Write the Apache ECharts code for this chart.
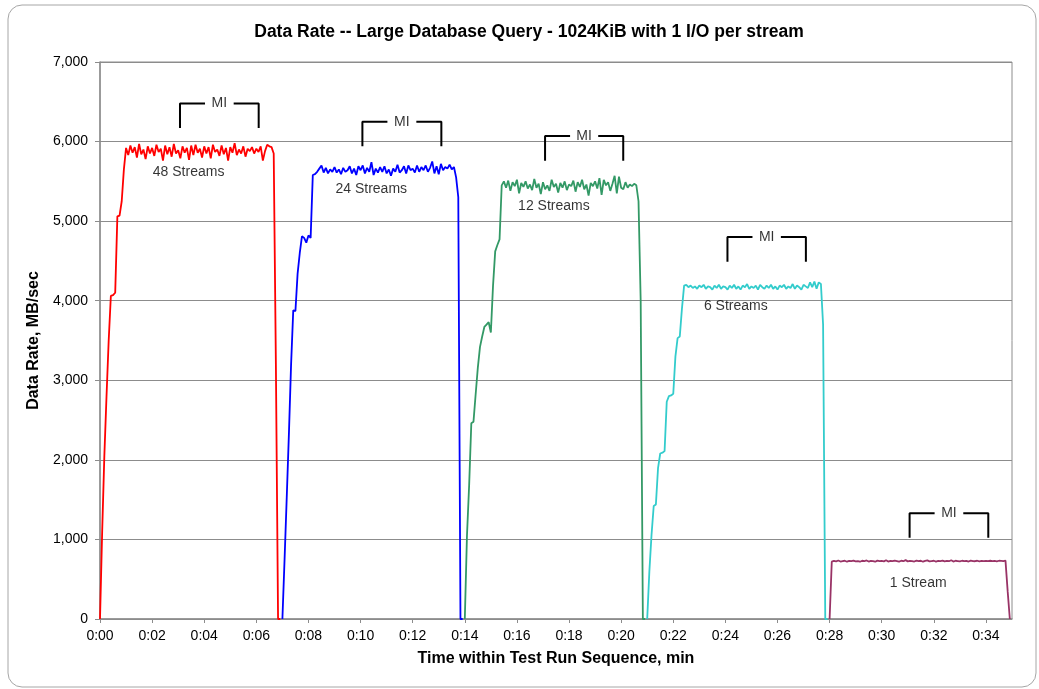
<!DOCTYPE html>
<html>
<head>
<meta charset="utf-8">
<script src="https://cdn.jsdelivr.net/npm/echarts@6/dist/echarts.min.js"></script>
<style>
  html, body { margin: 0; padding: 0; background: #fff; }
  #chart { width: 1039px; height: 689px; }
</style>
</head>
<body>
<div id="chart"></div>
<script>
// each run is sampled every 5 seconds, starting at the run start (min)
var runStart = [0, 7, 14, 21, 28];
var sampleStep = 5 / 60;
var runNames = ['48 Streams', '24 Streams', '12 Streams', '6 Streams', '1 Stream'];
var runColors = ['#ff0000', '#0000ff', '#339966', '#33cccc', '#993366'];

var rate48 = [0, 1100, 2050, 2800, 3500, 4060, 4070, 4100, 5060, 5070, 5250, 5650, 5920,
  5830, 5950, 5860, 5930, 5800, 5970, 5840, 5900, 5780, 5940,
  5850, 5920, 5820, 5960, 5870, 5910, 5760, 5950, 5840, 5930,
  5810, 5970, 5850, 5890, 5790, 5940, 5860, 5920, 5770, 5950,
  5830, 5960, 5860, 5910, 5800, 5940, 5850, 5930, 5790, 5960,
  5870, 5900, 5820, 5950, 5840, 5920, 5760, 5930, 5860, 5980,
  5830, 5900, 5850, 5940, 5810, 5910, 5880, 5930, 5850, 5910,
  5870, 5940, 5760, 5880, 5960, 5940, 5930,
  5850, 3200, 0, 0];

var rate24 = [0, 750, 1530, 2330, 3200, 3880, 3870, 4340, 4600, 4810, 4790, 4730, 4820, 4790, 5580, 5590,
  5620, 5660, 5700, 5610, 5670, 5600, 5650, 5620, 5680, 5610,
  5650, 5590, 5670, 5620, 5640, 5690, 5600, 5660, 5580, 5690,
  5640, 5700, 5600, 5670, 5620, 5740, 5580, 5660, 5610, 5680,
  5620, 5690, 5600, 5650, 5570, 5660, 5620, 5710, 5610, 5640,
  5690, 5600, 5700, 5640, 5660, 5610, 5700, 5620, 5680, 5640,
  5700, 5620, 5670, 5750, 5600, 5690, 5590, 5720, 5640, 5680,
  5660, 5710, 5650, 5680,
  5550, 5300, 0, 0];

var rate12 = [0, 1050, 1680, 2460, 2480, 2825, 3160, 3420, 3550, 3670, 3700, 3730, 3600, 4190, 4620, 4700, 4770, 5450, 5500,
  5420, 5510, 5380, 5490, 5440, 5520, 5350, 5480, 5430, 5500,
  5410, 5460, 5390, 5530, 5420, 5470, 5340, 5490, 5400, 5450,
  5380, 5520, 5430, 5470, 5360, 5480, 5420, 5500, 5390, 5460,
  5440, 5510, 5370, 5490, 5430, 5520, 5400, 5460, 5320, 5480,
  5440, 5500, 5410, 5540, 5330, 5520, 5450, 5490, 5380, 5470,
  5570, 5350, 5560, 5420, 5400, 5490, 5420, 5460, 5440, 5470,
  5450,
  5250, 4000, 0, 0];

var rate6 = [0, 600, 1060, 1420, 1440, 1900, 2080, 2090, 2110, 2730, 2800, 2810, 2830, 3300, 3530, 3550, 3900, 4190, 4200,
  4170, 4190, 4160, 4180, 4150, 4190, 4170, 4200, 4150, 4180,
  4170, 4140, 4190, 4160, 4200, 4150, 4180, 4170, 4140, 4190,
  4160, 4200, 4150, 4180, 4140, 4190, 4170, 4210, 4150, 4180,
  4160, 4190, 4140, 4200, 4170, 4150, 4190, 4160, 4200, 4150,
  4180, 4140, 4190, 4170, 4200, 4150, 4180, 4160, 4210, 4150,
  4190, 4170, 4140, 4200, 4180, 4160, 4230, 4170, 4240, 4150,
  4230, 4210,
  3700, 0, 0];

var rate1 = [0,
  720, 730, 725, 735, 722, 728, 732, 720, 730, 726,
  734, 724, 728, 720, 732, 726, 736, 722, 730, 728,
  720, 734, 726, 730, 724, 738, 722, 730, 726, 734,
  728, 722, 732, 726, 740, 724, 730, 728, 722, 734,
  726, 732, 720, 730, 736, 724, 728, 732, 722, 730,
  728, 734, 724, 730, 726, 738, 722, 732, 728, 724,
  732, 726, 730, 722, 734, 728, 726, 732, 724, 730,
  728, 730, 726, 732, 728, 730, 724, 732, 730, 728,
  734,
  350, 0];

var runRates = [rate48, rate24, rate12, rate6, rate1];

// stream count labels (min, MB/sec)
var labelTime = [3.40, 10.41, 17.42, 24.40, 31.40];
var labelRate = [5620, 5400, 5190, 3934, 456];

// measurement interval brackets
var miStart = [3.07, 10.07, 17.08, 24.08, 31.07];
var miEnd = [6.09, 13.10, 20.08, 27.09, 34.09];
var miTop = [6480, 6250, 6070, 4800, 1330];
var miBottom = [6170, 5940, 5760, 4490, 1020];
var miArm = 0.96;

var yTicks = [0, 1000, 2000, 3000, 4000, 5000, 6000, 7000];

var font = '"Liberation Sans", Arial, sans-serif';

var series = [];
runRates.forEach(function (vals, k) {
  series.push({
    name: runNames[k],
    type: 'line',
    symbol: 'none',
    smooth: false,
    lineStyle: { width: 1.8, color: runColors[k] },
    itemStyle: { color: runColors[k] },
    z: 3,
    data: vals.map(function (v, i) { return [runStart[k] + i * sampleStep, v]; })
  });
});

miStart.forEach(function (s, k) {
  var e = miEnd[k];
  var bracketStyle = { width: 2, color: '#000' };
  series.push({
    type: 'line', symbol: 'none', lineStyle: bracketStyle, z: 4,
    data: [[s, miBottom[k]], [s, miTop[k]], [s + miArm, miTop[k]]]
  });
  series.push({
    type: 'line', symbol: 'none', lineStyle: bracketStyle, z: 4,
    data: [[e - miArm, miTop[k]], [e, miTop[k]], [e, miBottom[k]]]
  });
});

series.push({
  type: 'scatter',
  symbolSize: 0,
  z: 5,
  label: {
    show: true, position: 'inside', formatter: 'MI',
    color: '#000', fontSize: 14, fontFamily: font
  },
  data: miStart.map(function (s, k) { return [(s + miEnd[k]) / 2, miTop[k]]; })
});

series.push({
  type: 'scatter',
  symbolSize: 0,
  z: 5,
  label: {
    show: true, position: 'inside', formatter: '{b}',
    color: '#000', fontSize: 14, fontFamily: font
  },
  data: labelTime.map(function (t, k) { return { name: runNames[k], value: [t, labelRate[k]] }; })
});

var chart = echarts.init(document.getElementById('chart'));
chart.setOption({
  animation: false,
  backgroundColor: '#fff',
  textStyle: { fontFamily: font },
  graphic: [{
    type: 'rect',
    shape: { x: 8, y: 5, width: 1028, height: 682, r: 14 },
    style: { fill: 'none', stroke: '#a6a6a6', lineWidth: 1 },
    silent: true
  }],
  title: {
    text: 'Data Rate -- Large Database Query - 1024KiB with 1 I/O per stream',
    left: 529,
    top: 23,
    textAlign: 'center',
    padding: 0,
    textStyle: { fontSize: 17.5, fontWeight: 'bold', color: '#000', fontFamily: font }
  },
  grid: {
    left: 100, right: 27, top: 62, bottom: 70,
    show: true, borderColor: '#8c8c8c', borderWidth: 1,
    containLabel: false
  },
  xAxis: {
    type: 'value',
    min: 0, max: 35, interval: 2,
    name: 'Time within Test Run Sequence, min',
    nameLocation: 'middle',
    nameGap: 32,
    nameTextStyle: { fontSize: 16, fontWeight: 'bold', color: '#000', fontFamily: font },
    axisLine: { show: true, lineStyle: { color: '#8c8c8c', width: 1.5 } },
    axisTick: { show: true, length: 4, lineStyle: { color: '#8c8c8c' } },
    axisLabel: {
      showMaxLabel: false, margin: 10, fontSize: 14, color: '#000', fontFamily: font,
      formatter: function (v) { return '0:' + (v < 10 ? '0' + v : v); }
    },
    splitLine: { show: false }
  },
  yAxis: {
    type: 'value',
    min: yTicks[0], max: yTicks[yTicks.length - 1], interval: 1000,
    name: 'Data Rate, MB/sec',
    nameLocation: 'middle',
    nameGap: 50,
    nameTextStyle: { fontSize: 16, fontWeight: 'bold', color: '#000', fontFamily: font },
    axisLine: { show: true, lineStyle: { color: '#8c8c8c', width: 1.5 } },
    axisTick: { show: true, length: 5, lineStyle: { color: '#8c8c8c' } },
    axisLabel: {
      margin: 12, fontSize: 14, color: '#000', fontFamily: font,
      formatter: function (v) { return v.toLocaleString('en-US'); }
    },
    splitLine: { show: true, lineStyle: { color: '#8c8c8c', width: 1 } }
  },
  series: series
});
</script>
</body>
</html>
